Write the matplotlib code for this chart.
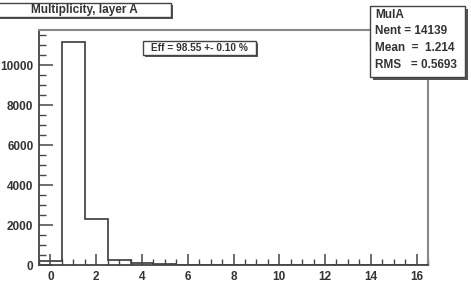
import matplotlib
matplotlib.use("Agg")
import matplotlib.pyplot as plt
import numpy as np
from matplotlib.ticker import MultipleLocator
from matplotlib.patches import Rectangle

plt.rcParams['font.family'] = ['Liberation Sans', 'DejaVu Sans']

bin_centers = list(range(0, 17))
counts = [200, 11150, 2320, 230, 85, 40, 15, 6, 2, 1, 0, 0, 0, 0, 0, 0, 0]
title = "Multiplicity, layer A"
stats_lines = ["MulA", "Nent = 14139", "Mean  =  1.214", "RMS   = 0.5693"]
eff_text = "Eff = 98.55 +- 0.10 %"

W, H = 471, 282
fig = plt.figure(figsize=(W / 100, H / 100), dpi=100)
fig.patch.set_facecolor('white')

def fx(px):
    return px / W

def fy(py):
    return 1 - py / H

ax = fig.add_axes([fx(39), fy(265), fx(428) - fx(39), fy(30) - fy(265)])
edges = np.arange(-0.5, 17.0, 1.0)
ax.stairs(counts, edges, color='#3a3a3a', linewidth=1.2)
ax.set_xlim(-0.5, 16.5)
ax.set_ylim(0, 11750)
ax.xaxis.set_major_locator(MultipleLocator(2))
ax.xaxis.set_minor_locator(MultipleLocator(0.5))
ax.yaxis.set_major_locator(MultipleLocator(2000))
ax.yaxis.set_minor_locator(MultipleLocator(500))
ax.tick_params(which='major', direction='in', length=10, width=1.1, color='#444444',
               labelsize=8.5, pad=4)
ax.tick_params(which='minor', direction='in', length=5, width=1.0, color='#444444')
ax.tick_params(axis='x', which='major', length=8)
ax.tick_params(axis='x', which='minor', length=4)
for lab in ax.get_xticklabels() + ax.get_yticklabels():
    lab.set_fontweight('bold')
    lab.set_color('#333333')
for s in ['left', 'bottom']:
    ax.spines[s].set_color('#444444')
    ax.spines[s].set_linewidth(1.3)
for s in ['top', 'right']:
    ax.spines[s].set_color('#888888')
    ax.spines[s].set_linewidth(1.5)

def box(x0, y0, x1, y1, shadow=2.5):
    fig.patches.append(Rectangle((fx(x0 + shadow), fy(y1 + shadow)), fx(x1 - x0), fy(y0) - fy(y1),
                                 transform=fig.transFigure, facecolor='#555555', edgecolor='none',
                                 zorder=5))
    fig.patches.append(Rectangle((fx(x0), fy(y1)), fx(x1 - x0), fy(y0) - fy(y1),
                                 transform=fig.transFigure, facecolor='white', edgecolor='#444444',
                                 linewidth=1.0, zorder=6))

box(-2, 3, 171, 17, shadow=2)
fig.text(fx(84), fy(10.5), title, ha='center', va='center', fontsize=8.5, fontweight='bold',
         color='#333333', zorder=7)

box(143, 41, 256, 55, shadow=2)
fig.text(fx(199.5), fy(48), eff_text, ha='center', va='center', fontsize=7.3, fontweight='bold',
         color='#333333', zorder=7)

box(370, 6, 465, 77, shadow=2.5)
ys = [15, 31, 48, 64.5]
for t, y in zip(stats_lines, ys):
    fig.text(fx(375), fy(y), t, ha='left', va='center', fontsize=8.5, fontweight='bold',
             color='#333333', zorder=7)

fig.savefig("out.png", dpi=100)
